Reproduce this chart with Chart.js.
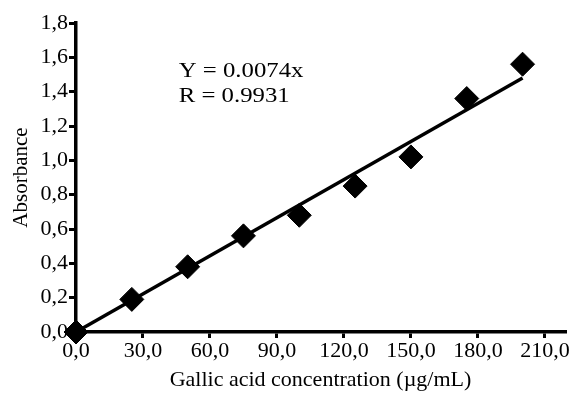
<!DOCTYPE html>
<html>
<head>
<meta charset="utf-8">
<script src="https://cdn.jsdelivr.net/npm/chart.js@4.4.0/dist/chart.umd.min.js"></script>
<style>
  html, body { margin: 0; padding: 0; background: #fff; }
  #wrap { width: 583px; height: 393px; }
</style>
</head>
<body>
<div id="wrap"><canvas id="myChart" width="583" height="393"></canvas></div>
<script>
// measured points (concentration in ug/mL vs absorbance)
const concentration = [0, 25, 50, 75, 100, 125, 150, 175, 200];
const absorbance = [0.0, 0.19, 0.38, 0.56, 0.68, 0.85, 1.02, 1.36, 1.56];

// fitted line, drawn between its end points
const fitX = [0, 200];
const fitY = [0, 1.48];

const xTicks = [0, 30, 60, 90, 120, 150, 180, 210];
const yTicks = [0, 0.2, 0.4, 0.6, 0.8, 1.0, 1.2, 1.4, 1.6, 1.8];

const eqLines = ["Y = 0.0074x", "R = 0.9931"];

const font = "'Liberation Serif', 'Times New Roman', serif";

function comma(v) {
	return Number(v).toFixed(1).replace(".", ",");
}

// writes the equation text at a position given in data units
const equationText = {
	id: "equationText",
	afterDatasetsDraw(chart) {
		const ctx = chart.ctx;
		const xs = chart.scales.x, ys = chart.scales.y;
		ctx.save();
		ctx.fillStyle = "#000";
		ctx.font = "21px " + font;
		ctx.textBaseline = "middle";
		const px = xs.getPixelForValue(46);
		ctx.translate(px, 0);
		ctx.scale(1.18, 1);
		ctx.fillText(eqLines[0], 0, ys.getPixelForValue(1.52));
		ctx.fillText(eqLines[1], 0, ys.getPixelForValue(1.37));
		ctx.restore();
	}
};

var ctx = document.getElementById("myChart").getContext("2d");
var myChart = new Chart(ctx, {
	type: "scatter",
	data: {
		datasets: [{
			label: "fit",
			data: fitX.map((x, i) => ({x: x, y: fitY[i]})),
			showLine: true,
			borderColor: "#000",
			borderWidth: 3.5,
			pointRadius: 0,
			fill: false,
			clip: false
		}, {
			label: "Absorbance",
			data: concentration.map((x, i) => ({x: x, y: absorbance[i]})),
			pointStyle: "rectRot",
			pointRadius: 12,
			pointBackgroundColor: "#000",
			pointBorderColor: "#000",
			borderWidth: 1,
			clip: false
		}]
	},
	options: {
		responsive: false,
		animation: false,
		layout: { padding: { top: 23, right: 18, left: 0, bottom: 0 } },
		plugins: {
			legend: { display: false },
			tooltip: { enabled: false }
		},
		scales: {
			x: {
				type: "linear",
				min: 0,
				max: 219,
				afterBuildTicks: s => { s.ticks = xTicks.map(v => ({value: v})); },
				afterFit: s => { s.height = 61; },
				grid: { drawOnChartArea: false, drawTicks: true, tickLength: 6, color: "#000", lineWidth: 3 },
				border: { color: "#000", width: 3.5 },
				ticks: {
					color: "#000",
					font: { family: font, size: 22 },
					padding: 0,
					maxRotation: 0,
					callback: v => comma(v)
				},
				title: {
					display: true,
					text: "Gallic acid concentration (\u00b5g/mL)",
					color: "#000",
					font: { family: font, size: 22 },
					padding: { top: 0, bottom: 0 }
				}
			},
			y: {
				type: "linear",
				min: 0,
				max: 1.8,
				afterBuildTicks: s => { s.ticks = yTicks.map(v => ({value: v})); },
				afterFit: s => { s.width = 76; },
				grid: { drawOnChartArea: false, drawTicks: true, tickLength: 7, color: "#000", lineWidth: 3 },
				border: { color: "#000", width: 3.5 },
				ticks: {
					color: "#000",
					font: { family: font, size: 22 },
					padding: 1,
					callback: v => comma(v)
				},
				title: {
					display: true,
					text: "Absorbance",
					color: "#000",
					font: { family: font, size: 21 },
					padding: { top: 9, bottom: 0 }
				}
			}
		}
	},
	plugins: [equationText]
});
</script>
</body>
</html>
